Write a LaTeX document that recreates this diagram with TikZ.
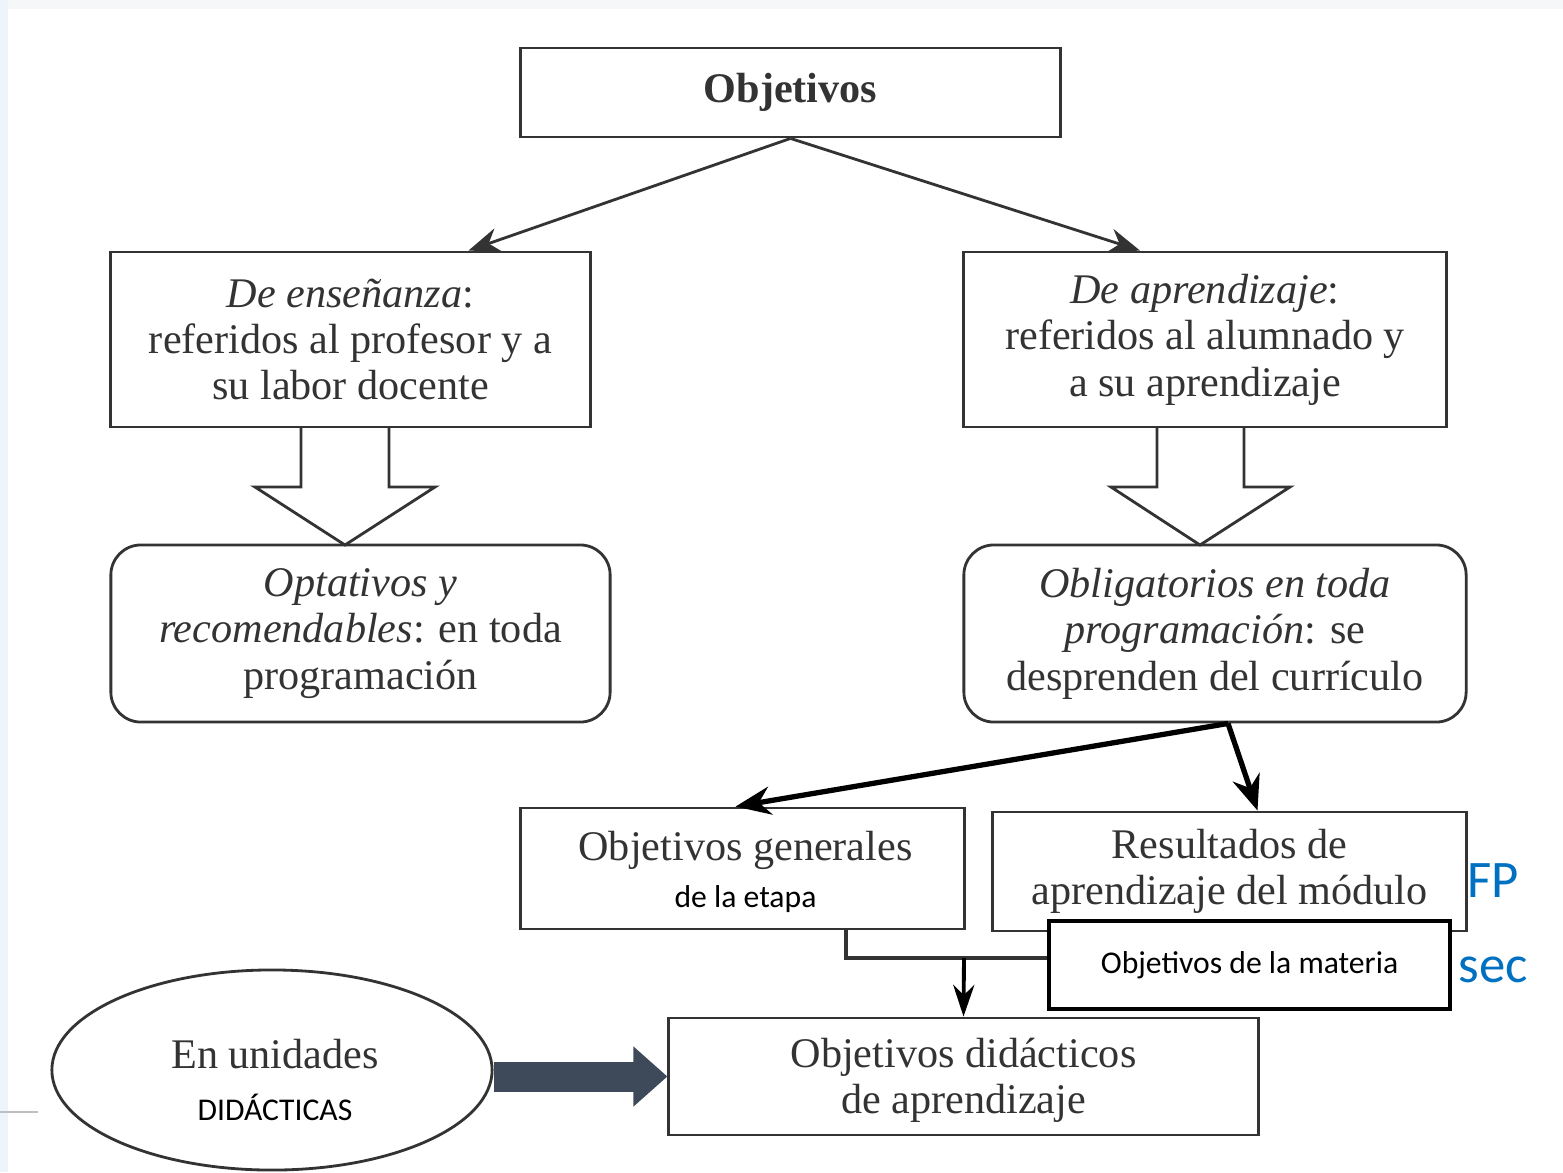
\documentclass[tikz,border=0pt]{standalone}
\usepackage{fontspec}
\setmainfont{Liberation Serif}
\newfontfamily\calib{Carlito}
\usetikzlibrary{arrows.meta,calc,shapes.geometric}
\definecolor{ink}{HTML}{333333}
\definecolor{fpblue}{HTML}{0070C0}
\definecolor{slate}{HTML}{3E4A5A}
\definecolor{band}{HTML}{F6F7F8}
\definecolor{lstrip}{HTML}{EEF4FB}
\begin{document}
\begin{tikzpicture}[x=0.01cm,y=-0.01cm,
  box/.style={draw=ink, line width=0.8pt, fill=white, text=ink, align=center, inner sep=0pt,
              font=\fontsize{12}{13.2}\selectfont},
  rbox/.style={box, rounded corners=0.3cm},
  cal/.style={font=\calib\fontsize{9}{11}\selectfont},
  thin arrow/.style={draw=ink, line width=0.8pt, -{Stealth[length=9pt,width=7pt]}},
  thick arrow/.style={draw=black, line width=1.5pt, -{Stealth[length=10pt,width=8pt]}},
  hollow/.style={draw=ink, line width=0.8pt, fill=white, line join=miter}]
\useasboundingbox (0,0) rectangle (1563,1172);
\fill[white] (0,0) rectangle (1563,1172);
\fill[band] (0,0) rectangle (1563,9);
\fill[lstrip] (0,0) rectangle (8,1172);
\draw[gray!50, line width=0.5pt] (0,1112) -- (38,1112);

% boxes
\node[box, minimum width=5.39cm, minimum height=0.89cm] (obj) at (790.5,92.5) {\textbf{Objetivos}};
\node[box, minimum width=4.79cm, minimum height=1.75cm] (ens) at (350.5,339.5)
  {\textit{De enseñanza}:\\referidos al profesor y a\\su labor docente};
\node[box, minimum width=4.82cm, minimum height=1.75cm] (apr) at (1205,339.5)
  {\textit{De aprendizaje}:\\referidos al alumnado y\\a su aprendizaje};
\node[rbox, minimum width=4.99cm, minimum height=1.77cm] (opt) at (360.5,633.5)
  {\textit{Optativos y}\\\textit{recomendables}: en toda\\programación};
\node[rbox, minimum width=5.02cm, minimum height=1.77cm] (obl) at (1215,633.5)
  {\textit{Obligatorios en toda}\\\textit{programación}: se\\desprenden del currículo};
\node[box, minimum width=4.43cm, minimum height=1.21cm] (gen) at (742.5,868.5) {};
\node[text=ink, align=center, inner sep=0pt, font=\fontsize{12}{13.2}\selectfont] (gentxt) at ($(gen.center)+(3,3)$)
  {Objetivos generales\\[0.2pt]{\color{black}\calib\fontsize{9}{11}\selectfont de la etapa}};
\node[box, minimum width=4.73cm, minimum height=1.19cm] (res) at (1229.5,871.5)
  {Resultados de\\aprendizaje del módulo};
\node[box, minimum width=5.89cm, minimum height=1.17cm] (did) at (963.5,1076.5) {};
\node[text=ink, align=center, inner sep=0pt, font=\fontsize{12}{13.2}\selectfont] (didtxt) at ($(did.center)+(0,4)$)
  {Objetivos didácticos\\de aprendizaje};
\node[ellipse, draw=ink, line width=0.8pt, fill=white, inner sep=0pt,
      minimum width=4.4cm, minimum height=2.0cm] (ell) at (272,1070) {};
\node[text=ink, align=center, inner sep=0pt, font=\fontsize{12}{13.2}\selectfont] (elltxt) at ($(ell.center)+(3,10)$)
  {En unidades\\[1.8pt]{\color{black}\calib\fontsize{9}{11}\selectfont DIDÁCTICAS}};

% top arrows
\draw[thin arrow] (obj.south) -- ($(ens.north)+(118,0)$);
\draw[thin arrow] (obj.south) -- ($(apr.north)+(-65,0)$);

% hollow arrows
\draw[hollow] (301,428) -- (301,487) -- (255,487) -- (345,545) -- (435,487) -- (389,487) -- (389,428);
\draw[hollow] (1157,428) -- (1157,487) -- (1111,487) -- (1200,545) -- (1290,487) -- (1244,487) -- (1244,428);

% thick arrows from obligatorios
\coordinate (os) at ($(obl.south)+(13,0)$);
\draw[thick arrow] (os) -- ($(gen.north)+(-7,0)$);
\draw[thick arrow] (os) -- ($(res.north)+(28,0)$);

% connector gen -> materia, and down to didacticos
\draw[draw=ink, line width=1.3pt] ($(gen.south)+(103.5,0)$) |- (1060,958);
\coordinate (j) at (964,958);
\draw[draw=black, line width=1.1pt, -{Stealth[length=9pt,width=6pt]}] (j) -- (did.north);

% materia box (overlaps resultados)
\node[draw=black, line width=1.1pt, fill=white, minimum width=4.01cm, minimum height=0.88cm,
      inner sep=0pt, cal] (mat) at (1249.5,965) {Objetivos de la materia};

% blue labels
\node[text=fpblue, font=\calib\fontsize{15}{18}\selectfont] (fp) at (1493,881) {FP};
\node[text=fpblue, font=\calib\fontsize{15}{18}\selectfont] (sec) at (1493,970) {sec};

% dark block arrow
\draw[slate, line width=0.3cm, -{Triangle[length=0.34cm,width=0.58cm]}] (ell.east |- did.west) -- (did.west);
\end{tikzpicture}
\end{document}
